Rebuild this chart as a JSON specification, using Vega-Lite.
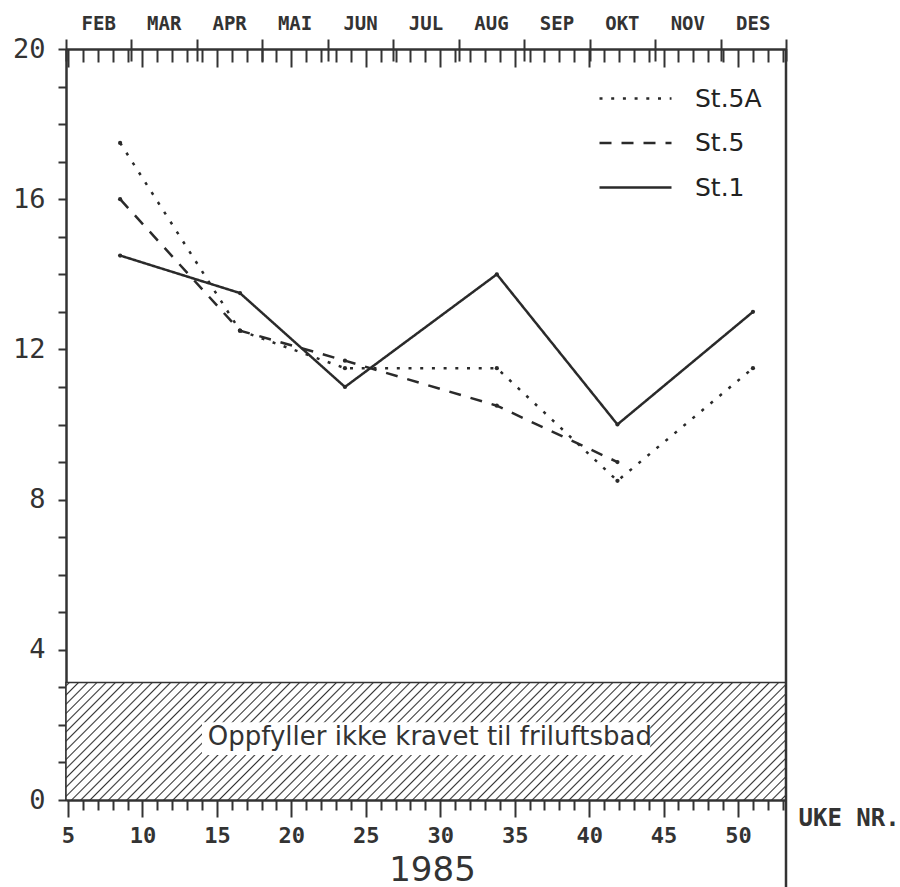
{
  "$schema": "https://vega.github.io/schema/vega-lite/v6.json",
  "width": 720,
  "height": 751,
  "autosize": {"type": "none"},
  "padding": {"left": 66, "top": 49, "right": 114, "bottom": 87},
  "background": "white",
  "config": {
    "view": {"stroke": null},
    "axis": {"grid": false},
    "axisY": {"values": [0, 2, 4, 6, 8, 10, 12, 14, 16, 18, 20], "labelExpr": "datum.value % 4 === 0 ? datum.label : ''", "tickSize": 8, "labelPadding": 13, "labelFont": "DejaVu Sans Mono", "labelFontSize": 27, "labelColor": "#333", "domainColor": "#333", "domainWidth": 2.5, "tickColor": "#333", "tickWidth": 2, "labelOverlap": false}
  },
  "resolve": {"scale": {"x": "independent"}},
  "layer": [
    {
      "data": {"values": [{"lo": 0, "hi": 3.13}]},
      "mark": {"type": "rect", "stroke": "#333", "strokeWidth": 1.5, "fill": {"gradient": "linear", "x1": 0, "y1": 0, "x2": 1.133, "y2": 0.1849, "stops": [
        {"offset":0.0022,"color":"#fff"},{"offset":0.004,"color":"#333"},{"offset":0.0058,"color":"#fff"},
        {"offset":0.0132,"color":"#fff"},{"offset":0.015,"color":"#333"},{"offset":0.0168,"color":"#fff"},
        {"offset":0.0242,"color":"#fff"},{"offset":0.026,"color":"#333"},{"offset":0.0278,"color":"#fff"},
        {"offset":0.0352,"color":"#fff"},{"offset":0.037,"color":"#333"},{"offset":0.0388,"color":"#fff"},
        {"offset":0.0462,"color":"#fff"},{"offset":0.048,"color":"#333"},{"offset":0.0498,"color":"#fff"},
        {"offset":0.0572,"color":"#fff"},{"offset":0.059,"color":"#333"},{"offset":0.0608,"color":"#fff"},
        {"offset":0.0682,"color":"#fff"},{"offset":0.07,"color":"#333"},{"offset":0.0718,"color":"#fff"},
        {"offset":0.0792,"color":"#fff"},{"offset":0.081,"color":"#333"},{"offset":0.0828,"color":"#fff"},
        {"offset":0.0902,"color":"#fff"},{"offset":0.092,"color":"#333"},{"offset":0.0938,"color":"#fff"},
        {"offset":0.1012,"color":"#fff"},{"offset":0.103,"color":"#333"},{"offset":0.1048,"color":"#fff"},
        {"offset":0.1122,"color":"#fff"},{"offset":0.114,"color":"#333"},{"offset":0.1158,"color":"#fff"},
        {"offset":0.1232,"color":"#fff"},{"offset":0.125,"color":"#333"},{"offset":0.1268,"color":"#fff"},
        {"offset":0.1342,"color":"#fff"},{"offset":0.136,"color":"#333"},{"offset":0.1378,"color":"#fff"},
        {"offset":0.1452,"color":"#fff"},{"offset":0.147,"color":"#333"},{"offset":0.1488,"color":"#fff"},
        {"offset":0.1562,"color":"#fff"},{"offset":0.158,"color":"#333"},{"offset":0.1598,"color":"#fff"},
        {"offset":0.1672,"color":"#fff"},{"offset":0.169,"color":"#333"},{"offset":0.1708,"color":"#fff"},
        {"offset":0.1782,"color":"#fff"},{"offset":0.18,"color":"#333"},{"offset":0.1818,"color":"#fff"},
        {"offset":0.1892,"color":"#fff"},{"offset":0.191,"color":"#333"},{"offset":0.1928,"color":"#fff"},
        {"offset":0.2002,"color":"#fff"},{"offset":0.202,"color":"#333"},{"offset":0.2038,"color":"#fff"},
        {"offset":0.2112,"color":"#fff"},{"offset":0.213,"color":"#333"},{"offset":0.2148,"color":"#fff"},
        {"offset":0.2222,"color":"#fff"},{"offset":0.224,"color":"#333"},{"offset":0.2258,"color":"#fff"},
        {"offset":0.2332,"color":"#fff"},{"offset":0.235,"color":"#333"},{"offset":0.2368,"color":"#fff"},
        {"offset":0.2442,"color":"#fff"},{"offset":0.246,"color":"#333"},{"offset":0.2478,"color":"#fff"},
        {"offset":0.2552,"color":"#fff"},{"offset":0.257,"color":"#333"},{"offset":0.2588,"color":"#fff"},
        {"offset":0.2662,"color":"#fff"},{"offset":0.268,"color":"#333"},{"offset":0.2698,"color":"#fff"},
        {"offset":0.2772,"color":"#fff"},{"offset":0.279,"color":"#333"},{"offset":0.2808,"color":"#fff"},
        {"offset":0.2882,"color":"#fff"},{"offset":0.29,"color":"#333"},{"offset":0.2918,"color":"#fff"},
        {"offset":0.2992,"color":"#fff"},{"offset":0.301,"color":"#333"},{"offset":0.3028,"color":"#fff"},
        {"offset":0.3102,"color":"#fff"},{"offset":0.312,"color":"#333"},{"offset":0.3138,"color":"#fff"},
        {"offset":0.3212,"color":"#fff"},{"offset":0.323,"color":"#333"},{"offset":0.3248,"color":"#fff"},
        {"offset":0.3322,"color":"#fff"},{"offset":0.334,"color":"#333"},{"offset":0.3358,"color":"#fff"},
        {"offset":0.3432,"color":"#fff"},{"offset":0.345,"color":"#333"},{"offset":0.3468,"color":"#fff"},
        {"offset":0.3542,"color":"#fff"},{"offset":0.356,"color":"#333"},{"offset":0.3578,"color":"#fff"},
        {"offset":0.3652,"color":"#fff"},{"offset":0.367,"color":"#333"},{"offset":0.3688,"color":"#fff"},
        {"offset":0.3762,"color":"#fff"},{"offset":0.378,"color":"#333"},{"offset":0.3798,"color":"#fff"},
        {"offset":0.3872,"color":"#fff"},{"offset":0.389,"color":"#333"},{"offset":0.3908,"color":"#fff"},
        {"offset":0.3982,"color":"#fff"},{"offset":0.4,"color":"#333"},{"offset":0.4018,"color":"#fff"},
        {"offset":0.4092,"color":"#fff"},{"offset":0.411,"color":"#333"},{"offset":0.4128,"color":"#fff"},
        {"offset":0.4202,"color":"#fff"},{"offset":0.422,"color":"#333"},{"offset":0.4238,"color":"#fff"},
        {"offset":0.4312,"color":"#fff"},{"offset":0.433,"color":"#333"},{"offset":0.4348,"color":"#fff"},
        {"offset":0.4422,"color":"#fff"},{"offset":0.444,"color":"#333"},{"offset":0.4458,"color":"#fff"},
        {"offset":0.4532,"color":"#fff"},{"offset":0.455,"color":"#333"},{"offset":0.4568,"color":"#fff"},
        {"offset":0.4642,"color":"#fff"},{"offset":0.466,"color":"#333"},{"offset":0.4678,"color":"#fff"},
        {"offset":0.4752,"color":"#fff"},{"offset":0.477,"color":"#333"},{"offset":0.4788,"color":"#fff"},
        {"offset":0.4862,"color":"#fff"},{"offset":0.488,"color":"#333"},{"offset":0.4898,"color":"#fff"},
        {"offset":0.4972,"color":"#fff"},{"offset":0.499,"color":"#333"},{"offset":0.5008,"color":"#fff"},
        {"offset":0.5082,"color":"#fff"},{"offset":0.51,"color":"#333"},{"offset":0.5118,"color":"#fff"},
        {"offset":0.5192,"color":"#fff"},{"offset":0.521,"color":"#333"},{"offset":0.5228,"color":"#fff"},
        {"offset":0.5302,"color":"#fff"},{"offset":0.532,"color":"#333"},{"offset":0.5338,"color":"#fff"},
        {"offset":0.5412,"color":"#fff"},{"offset":0.543,"color":"#333"},{"offset":0.5448,"color":"#fff"},
        {"offset":0.5522,"color":"#fff"},{"offset":0.554,"color":"#333"},{"offset":0.5558,"color":"#fff"},
        {"offset":0.5632,"color":"#fff"},{"offset":0.565,"color":"#333"},{"offset":0.5668,"color":"#fff"},
        {"offset":0.5742,"color":"#fff"},{"offset":0.576,"color":"#333"},{"offset":0.5778,"color":"#fff"},
        {"offset":0.5852,"color":"#fff"},{"offset":0.587,"color":"#333"},{"offset":0.5888,"color":"#fff"},
        {"offset":0.5962,"color":"#fff"},{"offset":0.598,"color":"#333"},{"offset":0.5998,"color":"#fff"},
        {"offset":0.6072,"color":"#fff"},{"offset":0.609,"color":"#333"},{"offset":0.6108,"color":"#fff"},
        {"offset":0.6182,"color":"#fff"},{"offset":0.62,"color":"#333"},{"offset":0.6218,"color":"#fff"},
        {"offset":0.6292,"color":"#fff"},{"offset":0.631,"color":"#333"},{"offset":0.6328,"color":"#fff"},
        {"offset":0.6402,"color":"#fff"},{"offset":0.642,"color":"#333"},{"offset":0.6438,"color":"#fff"},
        {"offset":0.6512,"color":"#fff"},{"offset":0.653,"color":"#333"},{"offset":0.6548,"color":"#fff"},
        {"offset":0.6622,"color":"#fff"},{"offset":0.664,"color":"#333"},{"offset":0.6658,"color":"#fff"},
        {"offset":0.6732,"color":"#fff"},{"offset":0.675,"color":"#333"},{"offset":0.6768,"color":"#fff"},
        {"offset":0.6842,"color":"#fff"},{"offset":0.686,"color":"#333"},{"offset":0.6878,"color":"#fff"},
        {"offset":0.6952,"color":"#fff"},{"offset":0.697,"color":"#333"},{"offset":0.6988,"color":"#fff"},
        {"offset":0.7062,"color":"#fff"},{"offset":0.708,"color":"#333"},{"offset":0.7098,"color":"#fff"},
        {"offset":0.7172,"color":"#fff"},{"offset":0.719,"color":"#333"},{"offset":0.7208,"color":"#fff"},
        {"offset":0.7282,"color":"#fff"},{"offset":0.73,"color":"#333"},{"offset":0.7318,"color":"#fff"},
        {"offset":0.7392,"color":"#fff"},{"offset":0.741,"color":"#333"},{"offset":0.7428,"color":"#fff"},
        {"offset":0.7502,"color":"#fff"},{"offset":0.752,"color":"#333"},{"offset":0.7538,"color":"#fff"},
        {"offset":0.7612,"color":"#fff"},{"offset":0.763,"color":"#333"},{"offset":0.7648,"color":"#fff"},
        {"offset":0.7722,"color":"#fff"},{"offset":0.774,"color":"#333"},{"offset":0.7758,"color":"#fff"},
        {"offset":0.7832,"color":"#fff"},{"offset":0.785,"color":"#333"},{"offset":0.7868,"color":"#fff"},
        {"offset":0.7942,"color":"#fff"},{"offset":0.796,"color":"#333"},{"offset":0.7978,"color":"#fff"},
        {"offset":0.8052,"color":"#fff"},{"offset":0.807,"color":"#333"},{"offset":0.8088,"color":"#fff"},
        {"offset":0.8162,"color":"#fff"},{"offset":0.818,"color":"#333"},{"offset":0.8198,"color":"#fff"},
        {"offset":0.8272,"color":"#fff"},{"offset":0.829,"color":"#333"},{"offset":0.8308,"color":"#fff"},
        {"offset":0.8382,"color":"#fff"},{"offset":0.84,"color":"#333"},{"offset":0.8418,"color":"#fff"},
        {"offset":0.8492,"color":"#fff"},{"offset":0.851,"color":"#333"},{"offset":0.8528,"color":"#fff"},
        {"offset":0.8602,"color":"#fff"},{"offset":0.862,"color":"#333"},{"offset":0.8638,"color":"#fff"},
        {"offset":0.8712,"color":"#fff"},{"offset":0.873,"color":"#333"},{"offset":0.8748,"color":"#fff"},
        {"offset":0.8822,"color":"#fff"},{"offset":0.884,"color":"#333"},{"offset":0.8858,"color":"#fff"},
        {"offset":0.8932,"color":"#fff"},{"offset":0.895,"color":"#333"},{"offset":0.8968,"color":"#fff"},
        {"offset":0.9042,"color":"#fff"},{"offset":0.906,"color":"#333"},{"offset":0.9078,"color":"#fff"},
        {"offset":0.9152,"color":"#fff"},{"offset":0.917,"color":"#333"},{"offset":0.9188,"color":"#fff"},
        {"offset":0.9262,"color":"#fff"},{"offset":0.928,"color":"#333"},{"offset":0.9298,"color":"#fff"},
        {"offset":0.9372,"color":"#fff"},{"offset":0.939,"color":"#333"},{"offset":0.9408,"color":"#fff"},
        {"offset":0.9482,"color":"#fff"},{"offset":0.95,"color":"#333"},{"offset":0.9518,"color":"#fff"},
        {"offset":0.9592,"color":"#fff"},{"offset":0.961,"color":"#333"},{"offset":0.9628,"color":"#fff"},
        {"offset":0.9702,"color":"#fff"},{"offset":0.972,"color":"#333"},{"offset":0.9738,"color":"#fff"},
        {"offset":0.9812,"color":"#fff"},{"offset":0.983,"color":"#333"},{"offset":0.9848,"color":"#fff"},
        {"offset":0.9922,"color":"#fff"},{"offset":0.994,"color":"#333"},{"offset":0.9958,"color":"#fff"}
      ]}},
      "encoding": {
        "y": {"field": "lo", "type": "quantitative", "title": null, "scale": {"domain": [0, 20], "nice": false, "zero": false}},
        "y2": {"field": "hi"}
      }
    },
    {
      "data": {"values": [{"x0": 14.0, "x1": 44.1, "y0": 1.2, "y1": 2.07}]},
      "mark": {"type": "rect", "fill": "white"},
      "encoding": {
        "x": {"field": "x0", "type": "quantitative", "axis": null, "scale": {"domain": [4.866, 53.22], "nice": false, "zero": false}},
        "x2": {"field": "x1"},
        "y": {"field": "y0", "type": "quantitative", "title": null, "scale": {"domain": [0, 20], "nice": false, "zero": false}},
        "y2": {"field": "y1"}
      }
    },
    {
      "data": {"values": [{"w": 29.3, "v": 1.69, "label": "Oppfyller ikke kravet til friluftsbad"}]},
      "mark": {"type": "text", "font": "DejaVu Sans", "fontSize": 26, "fill": "#333", "align": "center", "baseline": "middle"},
      "encoding": {
        "x": {"field": "w", "type": "quantitative", "axis": null, "scale": {"domain": [4.866, 53.22], "nice": false, "zero": false}},
        "y": {"field": "v", "type": "quantitative", "title": null, "scale": {"domain": [0, 20], "nice": false, "zero": false}},
        "text": {"field": "label"}
      }
    },
    {
      "data": {"values": [
        {"station": "St.1", "week": 8.5, "value": 14.5},
        {"station": "St.1", "week": 16.55, "value": 13.5},
        {"station": "St.1", "week": 23.6, "value": 11.0},
        {"station": "St.1", "week": 33.8, "value": 14.0},
        {"station": "St.1", "week": 41.9, "value": 10.0},
        {"station": "St.1", "week": 51.0, "value": 13.0},
        {"station": "St.5", "week": 8.5, "value": 16.0},
        {"station": "St.5", "week": 16.55, "value": 12.5},
        {"station": "St.5", "week": 23.6, "value": 11.7},
        {"station": "St.5", "week": 33.8, "value": 10.5},
        {"station": "St.5", "week": 41.9, "value": 9.0},
        {"station": "St.5A", "week": 8.5, "value": 17.5},
        {"station": "St.5A", "week": 16.55, "value": 12.5},
        {"station": "St.5A", "week": 23.6, "value": 11.5},
        {"station": "St.5A", "week": 33.8, "value": 11.5},
        {"station": "St.5A", "week": 41.9, "value": 8.5},
        {"station": "St.5A", "week": 51.0, "value": 11.5}
      ]},
      "encoding": {
        "x": {"field": "week", "type": "quantitative", "scale": {"domain": [4.866, 53.22], "nice": false, "zero": false},
          "axis": {"orient": "bottom", "values": [5,6,7,8,9,10,11,12,13,14,15,16,17,18,19,20,21,22,23,24,25,26,27,28,29,30,31,32,33,34,35,36,37,38,39,40,41,42,43,44,45,46,47,48,49,50,51,52,53],
            "labelExpr": "datum.value % 5 === 0 ? datum.label : ''", "labelOverlap": false, "labelFlush": false,
            "tickSize": {"condition": {"test": "datum.value % 5 === 0", "value": 17}, "value": 10},
            "labelPadding": 8, "labelFont": "DejaVu Sans Mono", "labelFontWeight": "bold", "labelFontSize": 22, "labelColor": "#333",
            "domainColor": "#333", "domainWidth": 2.5, "tickColor": "#333", "tickWidth": 2,
            "title": "1985", "titleX": 366, "titleY": 70, "titleAlign": "center", "titleBaseline": "middle", "titleFont": "DejaVu Sans", "titleFontSize": 34, "titleFontWeight": "normal", "titleColor": "#333"}},
        "y": {"field": "value", "type": "quantitative", "title": null, "scale": {"domain": [0, 20], "nice": false, "zero": false}}
      },
      "layer": [
        {
          "mark": {"type": "line", "color": "#2a2a2a", "strokeWidth": 2.5},
          "encoding": {
            "strokeDash": {"field": "station", "type": "nominal",
              "scale": {"domain": ["St.5A", "St.5", "St.1"], "range": [[3, 8.7], [12, 10], [1, 0]]},
              "legend": {"orient": "none", "legendX": 550, "legendY": 30, "title": null, "symbolType": "M-2,0H2", "symbolSize": 1296, "symbolStrokeWidth": 2.5, "symbolStrokeColor": "#2a2a2a", "symbolFillColor": "transparent", "labelFont": "DejaVu Sans", "labelFontSize": 25, "labelColor": "#222", "labelOffset": 40, "rowPadding": 11.5}}
          }
        },
        {
          "mark": {"type": "point", "filled": true, "color": "#2a2a2a", "size": 18, "opacity": 1}
        }
      ]
    },
    {
      "data": {"values": [{"w": 53.22, "b": -2.35, "t": 20}]},
      "mark": {"type": "rule", "color": "#333", "strokeWidth": 2.5},
      "encoding": {
        "x": {"field": "w", "type": "quantitative", "scale": {"domain": [4.866, 53.22], "nice": false, "zero": false},
          "axis": {"orient": "top", "values": [5,6,7,8,9,10,11,12,13,14,15,16,17,18,19,20,21,22,23,24,25,26,27,28,29,30,31,32,33,34,35,36,37,38,39,40,41,42,43,44,45,46,47,48,49,50,51,52,53],
            "labels": false, "tickSize": {"condition": {"test": "datum.value % 5 === 0", "value": -18}, "value": -13}, "tickColor": "#333", "tickWidth": 2, "domainColor": "#333", "domainWidth": 2.5,
            "title": "UKE NR.", "titleX": 732, "titleY": 769, "titleAlign": "left", "titleBaseline": "middle", "titleAngle": 0, "titleFont": "DejaVu Sans Mono", "titleFontWeight": "bold", "titleFontSize": 24, "titleColor": "#333"}},
        "y": {"field": "b", "type": "quantitative", "title": null, "scale": {"domain": [0, 20], "nice": false, "zero": false}},
        "y2": {"field": "t"}
      }
    },
    {
      "data": {"values": [
        {"month": "FEB", "m": 0.5, "top": 20}, {"month": "MAR", "m": 1.5, "top": 20}, {"month": "APR", "m": 2.5, "top": 20},
        {"month": "MAI", "m": 3.5, "top": 20}, {"month": "JUN", "m": 4.5, "top": 20}, {"month": "JUL", "m": 5.5, "top": 20},
        {"month": "AUG", "m": 6.5, "top": 20}, {"month": "SEP", "m": 7.5, "top": 20}, {"month": "OKT", "m": 8.5, "top": 20},
        {"month": "NOV", "m": 9.5, "top": 20}, {"month": "DES", "m": 10.5, "top": 20}
      ]},
      "mark": {"type": "text", "font": "DejaVu Sans Mono", "fontWeight": "bold", "fontSize": 19, "fill": "#333", "align": "center", "baseline": "middle", "dy": -25},
      "encoding": {
        "x": {"field": "m", "type": "quantitative", "scale": {"domain": [0, 11], "nice": false, "zero": false},
          "axis": {"orient": "top", "values": [0,1,2,3,4,5,6,7,8,9,10,11], "labels": false, "tickSize": 22, "offset": -12, "domain": false, "tickColor": "#333", "tickWidth": 2, "title": null}},
        "y": {"field": "top", "type": "quantitative", "title": null, "scale": {"domain": [0, 20], "nice": false, "zero": false}},
        "text": {"field": "month"}
      }
    }
  ]
}
